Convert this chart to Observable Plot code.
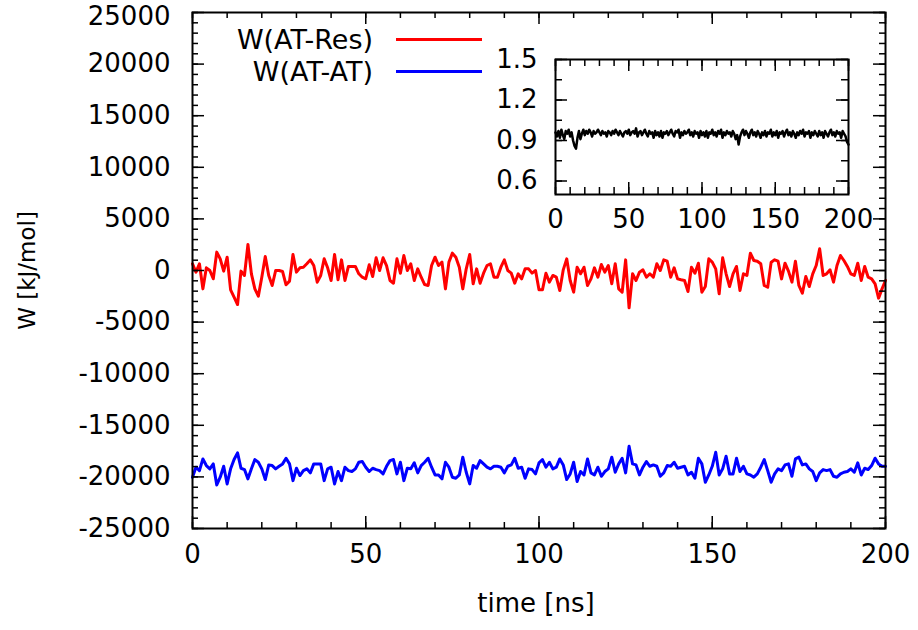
<!DOCTYPE html>
<html>
<head>
<meta charset="utf-8">
<script src="https://cdn.jsdelivr.net/npm/d3@7"></script>
<script src="https://cdn.jsdelivr.net/npm/@observablehq/plot@0.6"></script>
<style>
  html, body { margin: 0; padding: 0; background: white; }
  #wrap { position: relative; width: 918px; height: 630px; font-family: "DejaVu Sans", sans-serif; }
  #inset { position: absolute; left: 480px; top: 40px; }
  .legtxt { position: absolute; left: 0; width: 373px; text-align: right; font-size: 27px; line-height: 32px; height: 32px; color: black; white-space: nowrap; }
  .legline { position: absolute; left: 396px; width: 86px; height: 3px; }
</style>
</head>
<body>
<div id="wrap">
  <div id="main"></div>
  <div id="inset"></div>
  <div class="legtxt" style="top:24px">W(AT-Res)</div>
  <div class="legline" style="top:38px;background:#ff0000"></div>
  <div class="legtxt" style="top:56px">W(AT-AT)</div>
  <div class="legline" style="top:70px;background:#0000ff"></div>
</div>
<script>
// time in ns (one sample per ns)
const time = d3.range(0, 201);

// W(AT-Res) [kJ/mol]
const wRes = [
  650,-160,650,-1780,260,0,-800,1780,1130,-60,
  1290,-1870,-2580,-3300,-60,-480,2520,-320,-1780,-2490,
  -650,1360,-480,-1450,0,0,-100,-1390,-1030,1550,
  -160,260,320,650,1030,480,-1130,-480,1130,260,
  -970,1550,-900,1030,-970,390,390,390,-320,-650,
  -800,550,-580,1230,0,1230,480,-970,-1230,1130,
  -260,1450,0,650,-970,160,-650,-1360,-1450,485,
  1290,485,810,-1780,810,1680,1290,320,-1780,160,
  1550,-1290,160,-1230,-260,485,650,-650,-650,320,
  1030,0,-260,-1230,-320,-810,160,160,-260,0,
  -1870,-1870,-260,-1130,-480,-650,-1940,65,1130,-970,
  -2100,320,-320,320,-1450,-810,260,-650,580,-160,
  485,-1290,650,-1780,-2100,1030,-3620,-320,-970,-160,
  65,-650,-320,-650,650,0,1030,900,-650,260,
  -810,-900,-970,-2030,320,-260,710,-2100,-1550,1130,
  810,160,-2260,1230,-320,-1550,-320,390,-1940,-320,
  -480,1680,970,900,650,-1450,-1620,810,1030,900,
  -810,710,-65,-1130,900,-1450,-2200,-580,-1550,-320,
  485,2100,-480,-320,65,-1130,485,1450,970,390,
  -320,-480,710,-970,390,-650,-810,-1290,-2680,-1780,
  -970
];

// W(AT-AT) [kJ/mol]
const wAT = [
  -20030,-19060,-19390,-18260,-18900,-19220,-18740,-20780,-20030,-18970,
  -20680,-19220,-18320,-17670,-19160,-19290,-20190,-19220,-18320,-18580,
  -19220,-20260,-18840,-18900,-19220,-18970,-18740,-18190,-18740,-20360,
  -19160,-19870,-19390,-19220,-19610,-18740,-18740,-18740,-20360,-19220,
  -19060,-20680,-19480,-20360,-19060,-19390,-19480,-19220,-18580,-18510,
  -19060,-19480,-19160,-19290,-19390,-19710,-18970,-18420,-18320,-19710,
  -18580,-20360,-19160,-19220,-18640,-19610,-18900,-18580,-18190,-19060,
  -19810,-19810,-20190,-18580,-19060,-20030,-20130,-19810,-18090,-19550,
  -20680,-18900,-19160,-18420,-18740,-19060,-19220,-18970,-18970,-19060,
  -19610,-18970,-18840,-18190,-19160,-19060,-20130,-19220,-19290,-19710,
  -18640,-18320,-19060,-18580,-19220,-19060,-18260,-18840,-20260,-19710,
  -18580,-20450,-19480,-19810,-18260,-19610,-19810,-19060,-19940,-19480,
  -19220,-18090,-19550,-18740,-18190,-19610,-17030,-18740,-18840,-19810,
  -19060,-18510,-18970,-18840,-18970,-19940,-19610,-18900,-18970,-18580,
  -19160,-19060,-18970,-19810,-19550,-20130,-18190,-18740,-20520,-19810,
  -18970,-17610,-19810,-19220,-18000,-19710,-19710,-18190,-19480,-18970,
  -19710,-19810,-20030,-19710,-19060,-18320,-19390,-20520,-19710,-19220,
  -19390,-18840,-18740,-19940,-18260,-18090,-18840,-18740,-19220,-19480,
  -20360,-19610,-19290,-19390,-19290,-19940,-20030,-19710,-19550,-19480,
  -19220,-19550,-18640,-19810,-19160,-19290,-18900,-18190,-18740,-18970,
  -18970
];

// inset series (ratio)
const ratio = [
  0.96,0.93,0.97,0.92,0.98,0.94,0.91,0.97,0.95,0.98,
  0.93,0.96,0.90,0.86,0.84,0.92,0.97,0.91,0.95,0.98,
  0.94,0.97,0.95,0.98,0.96,0.93,0.97,0.95,0.96,0.98,
  0.96,0.94,0.97,0.95,0.96,0.93,0.97,0.96,0.94,0.97,
  0.95,0.98,0.96,0.94,0.97,0.95,0.93,0.96,0.97,0.95,
  0.98,0.94,0.96,0.97,0.95,0.99,0.93,0.96,0.97,0.94,
  0.96,0.98,0.95,0.93,0.97,0.95,0.96,0.92,0.97,0.94,
  0.96,0.93,0.97,0.92,0.96,0.95,0.97,0.94,0.96,0.98,
  0.95,0.93,0.97,0.96,0.98,0.92,0.96,0.94,0.97,0.95,
  0.96,0.98,0.94,0.96,0.93,0.97,0.95,0.96,0.92,0.97,
  0.94,0.96,0.93,0.97,0.92,0.96,0.95,0.98,0.94,0.96,
  0.93,0.97,0.95,0.98,0.92,0.96,0.94,0.97,0.95,0.96,
  0.93,0.97,0.95,0.91,0.94,0.87,0.93,0.96,0.98,0.94,
  0.97,0.95,0.92,0.96,0.98,0.94,0.96,0.93,0.97,0.95,
  0.92,0.96,0.94,0.97,0.93,0.96,0.95,0.98,0.93,0.96,
  0.94,0.97,0.92,0.96,0.95,0.97,0.93,0.96,0.98,0.94,
  0.96,0.93,0.97,0.95,0.92,0.96,0.94,0.97,0.95,0.98,
  0.93,0.96,0.95,0.97,0.92,0.96,0.94,0.97,0.95,0.93,
  0.97,0.94,0.96,0.92,0.97,0.95,0.93,0.96,0.98,0.94,
  0.96,0.93,0.97,0.95,0.96,0.92,0.97,0.95,0.93,0.89,
  0.87
];

// tick labels
const xTicks = [0, 50, 100, 150, 200];
const xMinorTicks = d3.range(0, 201, 10);
const yTicks = [-25000, -20000, -15000, -10000, -5000, 0, 5000, 10000, 15000, 20000, 25000];
const yMinorTicks = d3.range(-25000, 25001, 1000);
const insetYTicks = [0.6, 0.9, 1.2, 1.5];
const insetYMinorTicks = [0.6, 0.75, 0.9, 1.05, 1.2, 1.35, 1.5];

const rows = time.map((t, i) => ({t, res: wRes[i], at: wAT[i], ratio: ratio[i]}));

const font = {fontFamily: "DejaVu Sans, sans-serif", fontSize: "26px", color: "black", overflow: "visible"};

// ---------- main chart ----------
const W = 918, H = 630, mL = 192, mR = 33, mT = 12, mB = 102;
const pw = W - mL - mR, ph = H - mT - mB;

function boxTicks(pwid, phei, xMaj, xMin, yMaj, yMin, major, minor) {
  return [
    Plot.tickX(xMin, {x: d => d, insetTop: phei - minor, strokeWidth: 1.5}),
    Plot.tickX(xMin, {x: d => d, insetBottom: phei - minor, strokeWidth: 1.5}),
    Plot.tickX(xMaj, {x: d => d, insetTop: phei - major, strokeWidth: 1.5}),
    Plot.tickX(xMaj, {x: d => d, insetBottom: phei - major, strokeWidth: 1.5}),
    Plot.tickY(yMin, {y: d => d, insetRight: pwid - minor, strokeWidth: 1.5}),
    Plot.tickY(yMin, {y: d => d, insetLeft: pwid - minor, strokeWidth: 1.5}),
    Plot.tickY(yMaj, {y: d => d, insetRight: pwid - major, strokeWidth: 1.5}),
    Plot.tickY(yMaj, {y: d => d, insetLeft: pwid - major, strokeWidth: 1.5})
  ];
}

const yTop = yTicks[yTicks.length - 1];
const main = Plot.plot({
  width: W, height: H,
  marginLeft: mL, marginRight: mR, marginTop: mT, marginBottom: mB,
  style: {...font, background: "white"},
  x: {domain: [0, 200]},
  y: {domain: [-25000, 25000]},
  marks: [
    Plot.line(rows, {x: "t", y: "res", stroke: "#ff0000", strokeWidth: 3}),
    Plot.line(rows, {x: "t", y: "at", stroke: "#0000ff", strokeWidth: 3}),
    ...boxTicks(pw, ph, xTicks, xMinorTicks, yTicks, yMinorTicks, 12, 6),
    Plot.frame({stroke: "black", strokeWidth: 2}),
    Plot.axisX(xTicks, {tickSize: 0, tickPadding: 16, label: null, tickFormat: d => String(d)}),
    Plot.axisY(yTicks.filter(d => d !== yTop), {tickSize: 0, tickPadding: 22, label: null, tickFormat: d => String(d)}),
    Plot.axisY([yTop], {tickSize: 0, tickPadding: 22, label: null, dy: 4, tickFormat: d => String(d)}),
    Plot.text(["time [ns]"], {text: d => d, frameAnchor: "bottom", lineAnchor: "middle", textAnchor: "middle", dy: 75, dx: -3}),
    Plot.text(["W [kJ/mol]"], {text: d => d, frameAnchor: "left", lineAnchor: "middle", textAnchor: "middle", rotate: -90, dx: -165, fontSize: 23})
  ]
});
document.getElementById("main").append(main);

// ---------- inset ----------
const iW = 420, iH = 200, iL = 75, iR = 52, iT = 19, iB = 46;
const ipw = iW - iL - iR, iph = iH - iT - iB;
const inset = Plot.plot({
  width: iW, height: iH,
  marginLeft: iL, marginRight: iR, marginTop: iT, marginBottom: iB,
  style: {...font, background: "transparent"},
  x: {domain: [0, 200]},
  y: {domain: [0.5, 1.5]},
  marks: [
    Plot.frame({fill: "white", stroke: null}),
    Plot.line(rows, {x: "t", y: "ratio", stroke: "black", strokeWidth: 2.5}),
    ...boxTicks(ipw, iph, xTicks, xMinorTicks, insetYTicks, insetYMinorTicks, 12, 7),
    Plot.frame({stroke: "black", strokeWidth: 2}),
    Plot.axisX(xTicks, {tickSize: 0, tickPadding: 15, label: null, tickFormat: d => String(d)}),
    Plot.axisY(insetYTicks, {tickSize: 0, tickPadding: 18, label: null, tickFormat: d => d.toFixed(1)})
  ]
});
document.getElementById("inset").append(inset);
</script>
</body>
</html>
